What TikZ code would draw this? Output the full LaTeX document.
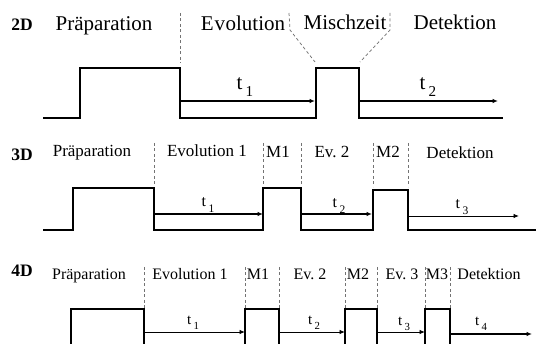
\documentclass[tikz,border=0pt]{standalone}
\usepackage{fontspec}
\setmainfont{Liberation Serif}
\usetikzlibrary{arrows.meta}

% time label "t" with a lowered index
\newcommand{\tidx}[1]{t\kern0.15em\raisebox{-0.32em}{\scalebox{0.72}{#1}}}

\begin{document}
\begin{tikzpicture}[x=1pt,y=-1pt,
  pulse/.style={line width=1.9pt,line join=miter},
  delay/.style={line width=1.4pt,-{Latex[length=5.5pt,width=4.5pt]}},
  thindelay/.style={line width=0.9pt,-{Latex[length=5.5pt,width=4.5pt]}},
  sep/.style={black!55,line width=0.75pt,dash pattern=on 3pt off 2.5pt},
  dimlabel/.style={font=\bfseries\fontsize{17.5}{19}\selectfont,anchor=base},
  lbltwo/.style={font=\fontsize{21}{24}\selectfont,anchor=base,inner sep=0pt},
  lblthree/.style={font=\fontsize{17}{20}\selectfont,anchor=base,inner sep=0pt},
  lblfour/.style={font=\fontsize{16}{19}\selectfont,anchor=base,inner sep=0pt},
  tlbl/.style={anchor=base,inner sep=0pt}]
\useasboundingbox (0,0) rectangle (536,344);
\clip (0,0) rectangle (536,344);

% ---------------- 2D ----------------
\node[dimlabel] (d2) at (22,31) {2D};
\node[lbltwo] (p2) at (104,31) {Präparation};
\node[lbltwo] (e2) at (243,31) {E\kern0.04em v\kern0.03em olution};
\node[lbltwo] (m2) at (345,30) {Mischzeit};
\node[lbltwo] (det2) at (455,30) {Detektion};

\draw[sep] (180,13) -- (180,63);
\draw[sep] (289,13) -- (290,30) -- (315,62);
\draw[sep] (390,13) -- (390,30) -- (360,62);

\coordinate (a0) at (43,118);
\coordinate (a1) at (80,118);
\coordinate (a2) at (80,68);
\coordinate (a3) at (180,68);
\coordinate (a4) at (180,118);
\coordinate (a5) at (316,118);
\coordinate (a6) at (316,68);
\coordinate (a7) at (359,68);
\coordinate (a8) at (359,118);
\coordinate (a9) at (503,118);
\draw[pulse] (a0) -- (a1) -- (a2) -- (a3) -- (a4) -- (a5) -- (a6) -- (a7) -- (a8) -- (a9);

\coordinate (ta1s) at (180,101);
\coordinate (ta1e) at (315,101);
\coordinate (ta2s) at (359,101);
\coordinate (ta2e) at (498,101);
\draw[delay] (ta1s) -- (ta1e);
\draw[delay] (ta2s) -- (ta2e);
\node[tlbl,font=\fontsize{21}{24}\selectfont] (lt21) at (245,90) {\tidx{1}};
\node[tlbl,font=\fontsize{21}{24}\selectfont] (lt22) at (428,90) {\tidx{2}};

% ---------------- 3D ----------------
\node[dimlabel] (d3) at (22,161) {3D};
\node[lblthree] (p3) at (92,157) {Präparation};
\node[lblthree] (e31) at (207,157) {Evolution 1};
\node[lblthree] (m31) at (278,158) {M1};
\node[lblthree] (e32) at (332,158) {Ev.\ 2};
\node[lblthree] (m32) at (388,158) {M2};
\node[lblthree] (det3) at (460,159) {Detektion};

\foreach \xs in {154,263,301,373,408}
  \draw[sep] (\xs,143) -- (\xs,187);

\coordinate (b0) at (43,230);
\coordinate (b1) at (73,230);
\coordinate (b2) at (73,188);
\coordinate (b3) at (154,188);
\coordinate (b4) at (154,230);
\coordinate (b5) at (263,230);
\coordinate (b6) at (263,188);
\coordinate (b7) at (301,188);
\coordinate (b8) at (301,230);
\coordinate (b9) at (373,230);
\coordinate (b10) at (373,190);
\coordinate (b11) at (408,190);
\coordinate (b12) at (408,230);
\coordinate (b13) at (536,230);
\draw[pulse] (b0) -- (b1) -- (b2) -- (b3) -- (b4) -- (b5) -- (b6) -- (b7) -- (b8) -- (b9) -- (b10) -- (b11) -- (b12) -- (b13);

\coordinate (tb1s) at (154,214);
\coordinate (tb1e) at (263,214);
\coordinate (tb2s) at (301,214);
\coordinate (tb2e) at (372,214);
\coordinate (tb3s) at (408,216);
\coordinate (tb3e) at (519,216);
\draw[delay,line width=1.8pt] (tb1s) -- (tb1e);
\draw[delay,line width=1.8pt] (tb2s) -- (tb2e);
\draw[thindelay] (tb3s) -- (tb3e);
\node[tlbl,font=\fontsize{16}{19}\selectfont] (lt31) at (208,207) {\tidx{1}};
\node[tlbl,font=\fontsize{16}{19}\selectfont] (lt32) at (339,208) {\tidx{2}};
\node[tlbl,font=\fontsize{16}{19}\selectfont] (lt33) at (462,209) {\tidx{3}};

% ---------------- 4D ----------------
\node[dimlabel] (d4) at (22,277) {4D};
\node[lblfour] (p4) at (89,280) {Präparation};
\node[lblfour] (e41) at (190,280) {Evolution 1};
\node[lblfour] (m41) at (258,280) {M1};
\node[lblfour] (e42) at (310,280) {Ev.\ 2};
\node[lblfour] (m42) at (358,280) {M2};
\node[lblfour] (e43) at (402,280) {Ev.\ 3};
\node[lblfour] (m43) at (437,280) {M3};
\node[lblfour] (det4) at (489,280) {Detektion};

\foreach \xs in {144,245,279,345,377,425,450}
  \draw[sep] (\xs,267) -- (\xs,308);

\coordinate (c1) at (71,346);
\coordinate (c2) at (71,309);
\coordinate (c3) at (144,309);
\coordinate (c4) at (144,346);
\coordinate (c5) at (245,346);
\coordinate (c6) at (245,309);
\coordinate (c7) at (279,309);
\coordinate (c8) at (279,346);
\coordinate (c9) at (345,346);
\coordinate (c10) at (345,309);
\coordinate (c11) at (377,309);
\coordinate (c12) at (377,346);
\coordinate (c13) at (425,346);
\coordinate (c14) at (425,309);
\coordinate (c15) at (450,309);
\coordinate (c16) at (450,346);
\draw[pulse] (c1) -- (c2) -- (c3) -- (c4);
\draw[pulse] (c5) -- (c6) -- (c7) -- (c8);
\draw[pulse] (c9) -- (c10) -- (c11) -- (c12);
\draw[pulse] (c13) -- (c14) -- (c15) -- (c16);

\coordinate (tc1s) at (144,332);
\coordinate (tc1e) at (245,332);
\coordinate (tc2s) at (279,332);
\coordinate (tc2e) at (345,332);
\coordinate (tc3s) at (377,332);
\coordinate (tc3e) at (425,332);
\coordinate (tc4s) at (450,334);
\coordinate (tc4e) at (532,334);
\draw[thindelay] (tc1s) -- (tc1e);
\draw[thindelay] (tc2s) -- (tc2e);
\draw[thindelay] (tc3s) -- (tc3e);
\draw[delay,line width=2pt] (tc4s) -- (tc4e);
\node[tlbl,font=\fontsize{15}{18}\selectfont] (lt41) at (193,325) {\tidx{1}};
\node[tlbl,font=\fontsize{15}{18}\selectfont] (lt42) at (314,325) {\tidx{2}};
\node[tlbl,font=\fontsize{15}{18}\selectfont] (lt43) at (404,326) {\tidx{3}};
\node[tlbl,font=\fontsize{15}{18}\selectfont] (lt44) at (481,326) {\tidx{4}};
\end{tikzpicture}
\end{document}
